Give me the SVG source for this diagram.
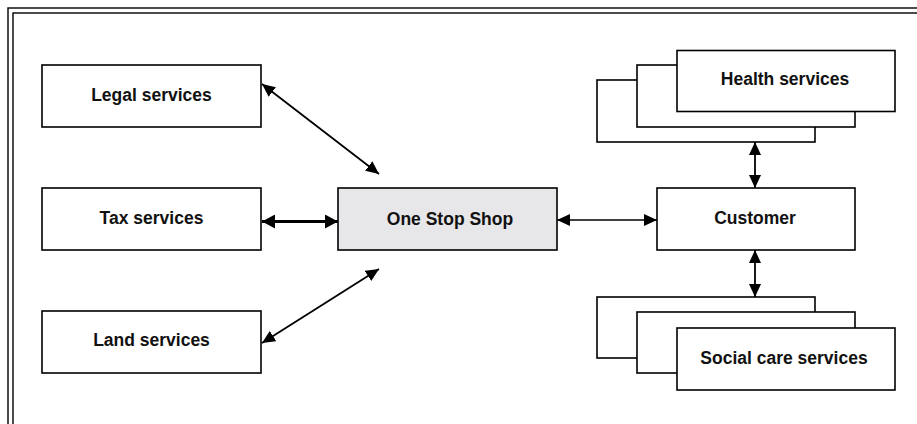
<svg xmlns="http://www.w3.org/2000/svg" width="917" height="424" viewBox="0 0 917 424">
  <style>
    .box { fill: #ffffff; stroke: #000000; stroke-width: 1.6; }
    .hub { fill: #e7e7e9; stroke: #000000; stroke-width: 1.6; }
    .lbl { font-family: "Liberation Sans", Arial, sans-serif; font-weight: bold; font-size: 17.5px; fill: #111111; text-anchor: middle; }
    .frame { fill: none; stroke: #000000; stroke-width: 1.4; }
    .link { stroke: #000000; stroke-width: 1.8; fill: none; marker-start: url(#arr); marker-end: url(#arr); }
    .thin { stroke-width: 1.4; }
    .thick { stroke-width: 3.2; marker-start: url(#arrBig); marker-end: url(#arrBig); }
  </style>
  <defs>
    <marker id="arr" markerUnits="userSpaceOnUse" markerWidth="14" markerHeight="12" viewBox="0 0 14 12" refX="13" refY="6" orient="auto-start-reverse">
      <path d="M0,0 L13,6 L0,12 z" fill="#000000"/>
    </marker>
    <marker id="arrBig" markerUnits="userSpaceOnUse" markerWidth="14" markerHeight="14" viewBox="0 0 14 14" refX="13" refY="7" orient="auto-start-reverse">
      <path d="M0,0 L13,7 L0,14 z" fill="#000000"/>
    </marker>
  </defs>

  <rect width="917" height="424" fill="#ffffff"/>

  <!-- double frame, open to the right and bottom -->
  <g id="frame">
    <rect class="frame" x="8" y="8" width="1000" height="1000"/>
    <rect class="frame" x="13" y="13" width="1000" height="1000"/>
  </g>

  <g id="connectors">
    <line class="link" x1="262" y1="84" x2="379" y2="174"/>
    <line class="link" x1="262" y1="343" x2="379" y2="269"/>
    <line class="link thick" x1="262" y1="221.5" x2="338" y2="221.5"/>
    <line class="link thin" x1="557" y1="220" x2="657" y2="220"/>
    <line class="link" x1="755" y1="142" x2="755" y2="188"/>
    <line class="link" x1="755" y1="250" x2="755" y2="297"/>
  </g>

  <g id="legal">
    <rect class="box" x="42" y="65" width="219" height="62"/>
    <text class="lbl" x="151.5" y="100.5">Legal services</text>
  </g>

  <g id="tax">
    <rect class="box" x="42" y="188" width="219" height="62"/>
    <text class="lbl" x="151.5" y="223.5">Tax services</text>
  </g>

  <g id="land">
    <rect class="box" x="42" y="311" width="219" height="62"/>
    <text class="lbl" x="151.5" y="346">Land services</text>
  </g>

  <g id="one-stop-shop">
    <rect class="hub" x="338" y="188" width="219" height="62"/>
    <text class="lbl" x="450" y="225">One Stop Shop</text>
  </g>

  <g id="customer">
    <rect class="box" x="657" y="188" width="198" height="62"/>
    <text class="lbl" x="755" y="223.5">Customer</text>
  </g>

  <g id="health">
    <rect class="box" x="597" y="80" width="218" height="62"/>
    <rect class="box" x="637" y="65" width="218" height="62"/>
    <rect class="box" x="677" y="50.5" width="218" height="61"/>
    <text class="lbl" x="785" y="85">Health services</text>
  </g>

  <g id="social-care">
    <rect class="box" x="597" y="297" width="218" height="61"/>
    <rect class="box" x="637" y="312" width="218" height="61"/>
    <rect class="box" x="677" y="328" width="218" height="62"/>
    <text class="lbl" x="784" y="363.5">Social care services</text>
  </g>
</svg>
